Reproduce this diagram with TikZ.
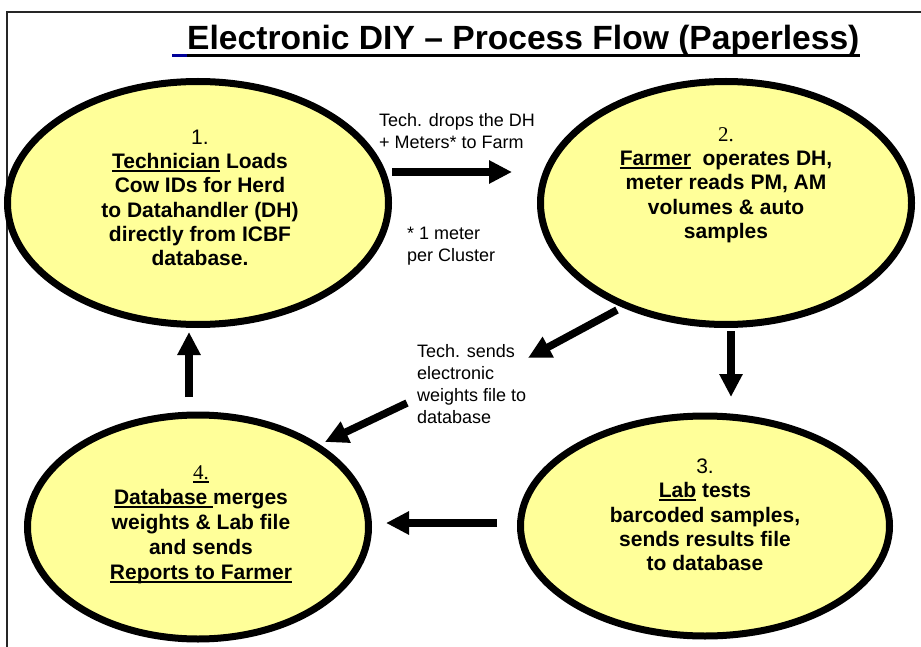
\documentclass[tikz,border=0pt]{standalone}
\usepackage{fontspec}
\usepackage{graphicx}
\setmainfont{Liberation Sans}
\newfontfamily\numserif{Liberation Serif}
\usetikzlibrary{arrows.meta,shapes.geometric}
\definecolor{ellfill}{RGB}{255,255,153}
\definecolor{ulblue}{RGB}{0,0,153}
\newcommand\uln[1]{\leavevmode\setbox0\hbox{#1}\rlap{\rule[-3.2pt]{\wd0}{2pt}}\box0\relax}
\tikzset{
  stage/.style={ellipse, draw=black, fill=ellfill, line width=7pt, inner sep=0pt},
  stagetext/.style={align=center, inner sep=0pt, font=\fontsize{21}{24.3}\selectfont\bfseries},
  note/.style={align=left, anchor=west, inner sep=0pt, font=\fontsize{18}{22}\selectfont},
  flow/.style={line width=7.5pt, -{Triangle[length=23pt,width=22pt]}},
}
\begin{document}
\begin{tikzpicture}[x=1pt,y=-1pt]
\useasboundingbox (0,0) rectangle (921,647);
% frame
\draw[line width=1.5pt, black!85] (7,647) -- (7,12) -- (921,12);
% title
\node[anchor=base west, inner sep=0pt, font=\fontsize{33.6}{38}\selectfont\bfseries] (title) at (187,50) {Electronic DIY -- Process Flow (Paperless)};
\draw[line width=3pt, ulblue] ([xshift=-15pt,yshift=-5.5pt]title.base west) -- ([yshift=-5.5pt]title.base west);
\draw[line width=3pt, black] ([yshift=-5.5pt]title.base west) -- ([yshift=-5.5pt]title.base east);
% stages
\node[stage, minimum width=381pt, minimum height=243pt] (s1) at (198,203) {};
\node[stage, minimum width=371pt, minimum height=243pt] (s2) at (726,203) {};
\node[stage, minimum width=369pt, minimum height=220pt] (s3) at (705,526) {};
\node[stage, minimum width=341pt, minimum height=224pt] (s4) at (198,527) {};
% stage texts
\node[stagetext] (t1) at (200,198) {{\mdseries 1.}\\ \uln{Technician} Loads\\ Cow IDs for Herd\\ to Datahandler (DH)\\ directly from ICBF\\ database.};
\node[stagetext] (t2) at (726,185) {{\mdseries\numserif 2.}\\ \uln{Farmer}\ \ operates DH,\\ meter reads PM, AM\\ volumes \& auto\\ samples};
\node[stagetext] (t3) at (705,515) {{\mdseries 3.}\\ \uln{Lab} tests\\ barcoded samples,\\ sends results file\\ to database};
\node[stagetext, font=\fontsize{21}{25}\selectfont\bfseries] (t4) at (201,525) {{\mdseries\numserif\uln{4.}}\\ \uln{Database }merges\\ weights \& Lab file\\ and sends\\ \uln{Reports to Farmer}};
% notes
\node[note] (n1) at (379,131) {Tech. drops the DH\\+ Meters* to Farm};
\node[note] (n2) at (407,246) {* 1 meter\\per Cluster};
\node[note] (n3) at (417,384) {Tech. sends\\electronic\\weights file to\\database};
% arrow end points
\coordinate (a1s) at (392,172); \coordinate (a1e) at (512,172);
\coordinate (a2s) at (731,331); \coordinate (a2e) at (731,397);
\coordinate (a3s) at (497,523); \coordinate (a3e) at (386,523);
\coordinate (a4s) at (189,397); \coordinate (a4e) at (189,332);
\coordinate (a5s) at (617,310); \coordinate (a5e) at (528,358);
\coordinate (a6s) at (407,403); \coordinate (a6e) at (325,442);
\draw[flow] (a1s) -- (a1e);
\draw[flow] (a2s) -- (a2e);
\draw[flow] (a3s) -- (a3e);
\draw[flow] (a4s) -- (a4e);
\draw[flow] (a5s) -- (a5e);
\draw[flow] (a6s) -- (a6e);
\end{tikzpicture}
\end{document}
